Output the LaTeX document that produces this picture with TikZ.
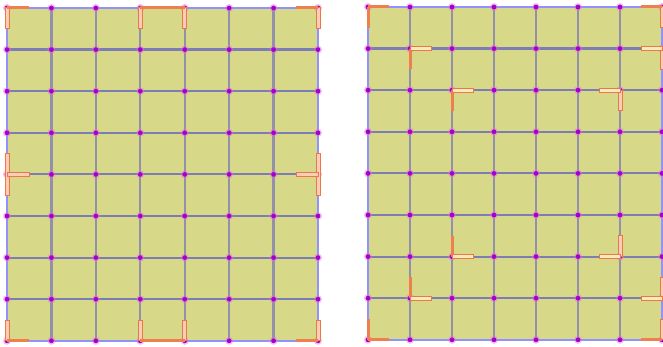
\documentclass[tikz,border=0pt]{standalone}
\begin{document}
\begin{tikzpicture}[x=1pt,y=-1pt,
  cellfill/.style={fill={rgb,255:red,215;green,216;blue,136}},
  vline/.style={draw={rgb,255:red,145;green,145;blue,170},line width=2.2pt},
  hline/.style={draw={rgb,255:red,125;green,125;blue,182},line width=2.2pt},
  frame/.style={draw={rgb,255:red,145;green,145;blue,255},line width=1.8pt},
  halo/.style={fill={rgb,255:red,235;green,110;blue,220},fill opacity=0.45},
  dot/.style={fill={rgb,255:red,165;green,0;blue,205}},
  sbar/.style={draw={rgb,255:red,238;green,128;blue,80},line width=3pt},
  obar/.style={draw={rgb,255:red,236;green,120;blue,70},line width=1pt,fill={rgb,255:red,250;green,205;blue,185}},
  ybar/.style={draw={rgb,255:red,236;green,120;blue,70},line width=1pt,fill={rgb,255:red,245;green,235;blue,190}}
]
\useasboundingbox (0,0) rectangle (663,347);
\clip (0,0) rectangle (663,347);
\fill[white] (0,0) rectangle (663,347);
% ---------- left grid ----------
\fill[cellfill] (7,8) rectangle (318,340.8);
\foreach \i in {1,...,6} \draw[vline] ({7+\i*44.43},8) -- ({7+\i*44.43},340.8);
\foreach \j in {1,...,7} \draw[hline] (7,{8+\j*41.6}) -- (318,{8+\j*41.6});
\draw[frame] (7,8) rectangle (318,340.8);
\foreach \i in {0,...,7} \foreach \j in {0,...,8} {
  \fill[halo] ({7+\i*44.43},{8+\j*41.6}) circle (4);
  \fill[dot] ({7+\i*44.43},{8+\j*41.6}) circle (2.4);
}
% markers left
\draw[obar] (5,8) rectangle (9,29);
\draw[sbar] (7,8) -- (29,8);
\draw[obar] (138.3,8) rectangle (142.3,29);
\draw[obar] (182.7,8) rectangle (186.7,29);
\draw[sbar] (140.3,8) -- (184.7,8);
\draw[obar] (316,8) rectangle (320,29);
\draw[sbar] (296,8) -- (318,8);
\draw[obar] (5,154) rectangle (9,196);
\draw[obar] (7,173) rectangle (29,177);
\draw[obar] (316,154) rectangle (320,196);
\draw[obar] (296,173) rectangle (318,177);
\draw[obar] (5,320) rectangle (9,340.8);
\draw[sbar] (7,340.8) -- (29,340.8);
\draw[obar] (138.3,320) rectangle (142.3,340.8);
\draw[obar] (182.7,320) rectangle (186.7,340.8);
\draw[sbar] (140.3,340.8) -- (184.7,340.8);
\draw[obar] (316,320) rectangle (320,340.8);
\draw[sbar] (296,340.8) -- (318,340.8);
% ---------- right grid ----------
\fill[cellfill] (368,7) rectangle (662,339.8);
\foreach \i in {1,...,6} \draw[vline] ({368+\i*42},7) -- ({368+\i*42},339.8);
\foreach \j in {1,...,7} \draw[hline] (368,{7+\j*41.6}) -- (662,{7+\j*41.6});
\draw[frame] (368,7) rectangle (662,339.8);
\foreach \i in {0,...,7} \foreach \j in {0,...,8} {
  \fill[halo] ({368+\i*42},{7+\j*41.6}) circle (4);
  \fill[dot] ({368+\i*42},{7+\j*41.6}) circle (2.4);
}
% markers right
\draw[sbar] (368,7) -- (389,7);
\draw[sbar] (368,7) -- (368,28);
\draw[sbar] (410,48.6) -- (410,69.4);
\draw[ybar] (410,46.6) rectangle (431,50.6);
\draw[sbar] (452,90.2) -- (452,111);
\draw[ybar] (452,88.2) rectangle (473,92.2);
\draw[obar] (660,7) rectangle (664,28);
\draw[sbar] (641,7) -- (662,7);
\draw[obar] (660,48.6) rectangle (664,69.4);
\draw[ybar] (641,46.6) rectangle (662,50.6);
\draw[obar] (618,90.2) rectangle (622,111);
\draw[ybar] (599,88.2) rectangle (620,92.2);
\draw[obar] (618,235.8) rectangle (622,256.6);
\draw[ybar] (599,254.6) rectangle (620,258.6);
\draw[obar] (660,277.4) rectangle (664,298.2);
\draw[ybar] (641,296.2) rectangle (662,300.2);
\draw[obar] (660,319) rectangle (664,339.8);
\draw[sbar] (641,339.8) -- (662,339.8);
\draw[sbar] (452,235.8) -- (452,256.6);
\draw[ybar] (452,254.6) rectangle (473,258.6);
\draw[sbar] (410,277.4) -- (410,298.2);
\draw[ybar] (410,296.2) rectangle (431,300.2);
\draw[sbar] (368,319) -- (368,339.8);
\draw[sbar] (368,339.8) -- (389,339.8);
\end{tikzpicture}
\end{document}
